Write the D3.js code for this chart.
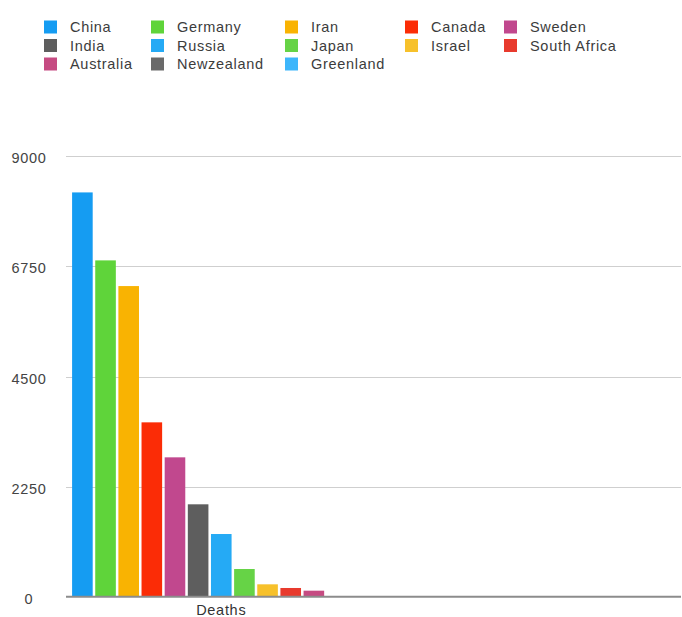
<!DOCTYPE html>
<html>
<head>
<meta charset="utf-8">
<script src="https://cdn.jsdelivr.net/npm/d3@7"></script>
<style>
  html, body { margin: 0; padding: 0; background: #fff; }
  svg { display: block; }
  text { font-family: "Liberation Sans", Arial, Helvetica, sans-serif; }
</style>
</head>
<body>
<svg id="chart" width="682" height="617"></svg>
<script>
// ---- data ----
const categories = ["Deaths", ""];
const countries = ["China", "Germany", "Iran", "Canada", "Sweden",
                   "India", "Russia", "Japan", "Israel", "South Africa",
                   "Australia", "Newzealand", "Greenland"];
const deaths = [8262, 6873, 6348, 3563, 2848, 1888, 1281, 566, 253, 178, 123, 12, 0];
const colors = ["#159cf2", "#5fd43a", "#f9b302", "#fb2c06", "#c1488e",
                "#5e5e5e", "#25aaf5", "#66d346", "#f7c12b", "#e83a2d",
                "#c64b82", "#6a6a6a", "#3db6fb"];
const yTicks = [0, 2250, 4500, 6750, 9000];
// legend arrangement: 5 columns x 3 rows, filled column by column
const legendOrder = ["China", "India", "Australia",
                     "Germany", "Russia", "Newzealand",
                     "Iran", "Japan", "Greenland",
                     "Canada", "Israel",
                     "Sweden", "South Africa"];

// ---- layout ----
const svg = d3.select("#chart");
const plotLeft = 66, plotRight = 681, plotTop = 156.3, plotBottom = 596.7;

const y = d3.scaleLinear().domain([0, 9000]).range([plotBottom, plotTop]);
const x0 = d3.scaleBand().domain(categories).range([plotLeft, plotRight])
  .paddingInner(0.02).paddingOuter(0.02);
const x1 = d3.scaleBand().domain(countries).range([0, x0.bandwidth()])
  .paddingInner(0.11).paddingOuter(0);
const color = d3.scaleOrdinal().domain(countries).range(colors);

// gridlines
svg.append("g").selectAll("line")
  .data(yTicks.filter(d => d !== 0))
  .join("line")
  .attr("x1", plotLeft).attr("x2", plotRight)
  .attr("y1", d => Math.round(y(d)) + 0.5).attr("y2", d => Math.round(y(d)) + 0.5)
  .attr("stroke", "#cfcfcf").attr("stroke-width", 1.2);

// y labels
svg.append("g").selectAll("text")
  .data(yTicks)
  .join("text")
  .attr("x", 29).attr("y", d => y(d) + 7)
  .attr("text-anchor", "middle")
  .attr("font-size", 14.5)
  .attr("letter-spacing", 0.7)
  .attr("fill", "#444")
  .text(d => d3.format("d")(d));

// bars
const rows = countries.map((c, i) => ({ country: c, value: deaths[i] }));
svg.append("g")
  .attr("transform", `translate(${x0("Deaths")},0)`)
  .selectAll("rect")
  .data(rows)
  .join("rect")
  .attr("x", d => x1(d.country))
  .attr("width", x1.bandwidth())
  .attr("y", d => y(d.value))
  .attr("height", d => y(0) - y(d.value))
  .attr("fill", d => color(d.country));

// baseline
svg.append("line")
  .attr("x1", plotLeft).attr("x2", plotRight)
  .attr("y1", y(0)).attr("y2", y(0))
  .attr("stroke", "#8c8c8c").attr("stroke-width", 2);

// category label
svg.append("g").selectAll("text")
  .data(categories.filter(c => c))
  .join("text")
  .attr("x", d => x0(d) + x0.bandwidth() / 2)
  .attr("y", 614.5)
  .attr("text-anchor", "middle")
  .attr("font-size", 14.5)
  .attr("letter-spacing", 0.7)
  .attr("fill", "#333")
  .text(d => d);

// legend
const colX = [44, 151, 285, 405, 504];
const rowY = r => 27 + 18.5 * r;
const legendItems = [];
let idx = 0;
const colSizes = [3, 3, 3, 2, 2];
colSizes.forEach((n, c) => {
  for (let r = 0; r < n; r++) {
    legendItems.push({ name: legendOrder[idx++], col: c, row: r });
  }
});
const lg = svg.append("g").selectAll("g")
  .data(legendItems)
  .join("g")
  .attr("transform", d => `translate(${colX[d.col]},${rowY(d.row)})`);
lg.append("rect")
  .attr("x", 0).attr("y", -6.5)
  .attr("width", 13).attr("height", 13)
  .attr("fill", d => color(d.name));
lg.append("text")
  .attr("x", 26).attr("y", 5.3)
  .attr("font-size", 14.5)
  .attr("letter-spacing", 0.7)
  .attr("fill", "#3c3c3c")
  .text(d => d.name);
</script>
</body>
</html>
